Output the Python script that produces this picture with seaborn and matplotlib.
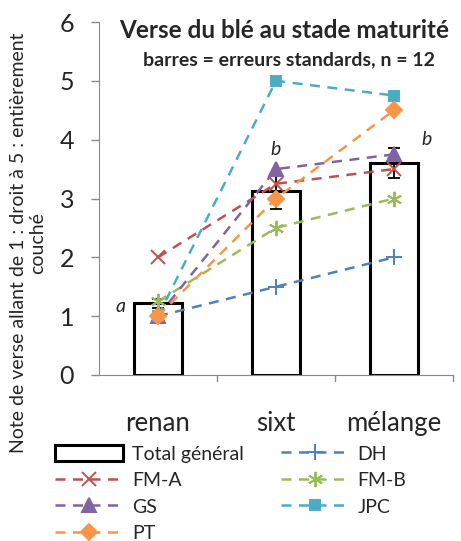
import numpy as np
import pandas as pd
import matplotlib
matplotlib.use("Agg")
import matplotlib.pyplot as plt
import seaborn as sns
from matplotlib.patches import Patch
from matplotlib.lines import Line2D

sns.set_style("ticks")
plt.rcParams["font.family"] = ["Lato", "DejaVu Sans"]

# data
categories = ["renan", "sixt", "mélange"]
total = [1.22, 3.13, 3.6]
total_se = [0.08, 0.3, 0.26]
letters = ["a", "b", "b"]

series_names = ["DH", "FM-A", "FM-B", "GS", "JPC", "PT"]
dh = [1.0, 1.5, 2.0]
fm_a = [2.0, 3.25, 3.5]
fm_b = [1.25, 2.5, 3.0]
gs = [1.0, 3.5, 3.75]
jpc = [1.0, 5.0, 4.75]
pt = [1.0, 3.0, 4.5]
series_values = [dh, fm_a, fm_b, gs, jpc, pt]

colors = {"DH": "#4F81BD", "FM-A": "#C0504D", "FM-B": "#9BBB59",
          "GS": "#8064A2", "JPC": "#4BACC6", "PT": "#F79646"}
markers = {"DH": "+", "FM-A": "x", "FM-B": (6, 2, 0), "GS": "^",
           "JPC": "s", "PT": "D"}
msize = {"DH": 11, "FM-A": 10, "FM-B": 11, "GS": 9.5, "JPC": 7, "PT": 8}

fig = plt.figure(figsize=(4.61, 5.41), dpi=100)
ax = fig.add_axes([99 / 461, 1 - 375 / 541, 354 / 461, 353 / 541])

df = pd.DataFrame({"cat": categories, "total": total})
sns.barplot(data=df, x="cat", y="total", order=categories, width=0.41,
            color="white", edgecolor="black", linewidth=2.2, ax=ax, zorder=2)
ax.errorbar(np.arange(3), total, yerr=total_se, fmt="none", ecolor="black",
            elinewidth=1.3, capsize=4.5, capthick=1.3, zorder=3)

for name, vals in zip(series_names, series_values):
    sns.lineplot(x=categories, y=vals, color=colors[name], ax=ax,
                 linewidth=1.8, zorder=4, sort=False)
    ln = ax.lines[-1]
    ln.set_dashes((4, 3))
    ln.set_marker(markers[name])
    ln.set_markersize(msize[name])
    ln.set_markeredgewidth(1.4)
    ln.set_markerfacecolor(colors[name])
    ln.set_markeredgecolor(colors[name])

# significance letters
ax.text(-0.32, 1.16, letters[0], fontsize=14, style="italic",
        ha="center", va="center")
ax.text(1.0, 3.83, letters[1], fontsize=14, style="italic",
        ha="center", va="center")
ax.text(2.28, 4.0, letters[2], fontsize=14, style="italic",
        ha="center", va="center")

ax.set_ylim(0, 6)
ax.set_xlim(-0.5, 2.5)
ax.set_yticks(range(7))
ax.tick_params(axis="y", labelsize=18, length=6, color="#888888", width=1, pad=12)
ax.set_xticks(np.arange(3))
ax.set_xticklabels(categories, fontsize=18.5)
ax.tick_params(axis="x", length=0, pad=26)
for b in [0.5, 1.5, 2.5]:
    ax.plot([b, b], [0, -0.11], color="#888888", lw=1, clip_on=False)
ax.set_xlabel("")
ax.set_ylabel("")
fig.text(28 / 461, 1 - 243 / 541,
         "Note de verse allant de 1 : droit à 5 : entièrement\ncouché",
         rotation=90, fontsize=14, ha="center", va="center",
         multialignment="center", linespacing=1.15)
for s in ["top", "right"]:
    ax.spines[s].set_visible(False)
for s in ["left", "bottom"]:
    ax.spines[s].set_color("#888888")

fig.text(284 / 461, 1 - 30 / 541, "Verse du blé au stade maturité",
         fontsize=17.5, fontweight="bold", ha="center", va="center")
fig.text(289 / 461, 1 - 60 / 541, "barres = erreurs standards, n = 12",
         fontsize=14, fontweight="bold", ha="center", va="center")

handles = {"Total général": Patch(facecolor="white", edgecolor="black", linewidth=2.2)}
for name in series_names:
    handles[name] = Line2D([], [], color=colors[name], lw=1.8, dashes=(4, 3),
                           marker=markers[name], markersize=msize[name],
                           markeredgewidth=1.4, markerfacecolor=colors[name])
order = ["Total général", "FM-A", "GS", "PT", "DH", "FM-B", "JPC"]
fig.legend([handles[k] for k in order], order, ncol=2, frameon=False,
           fontsize=14, loc="upper left", bbox_to_anchor=(55 / 461, 1 - 445 / 541),
           borderpad=0, borderaxespad=0, handlelength=3.5, handleheight=0.9,
           handletextpad=0.45, columnspacing=1.9, labelspacing=0.45)

fig.savefig("out.png", dpi=100)
